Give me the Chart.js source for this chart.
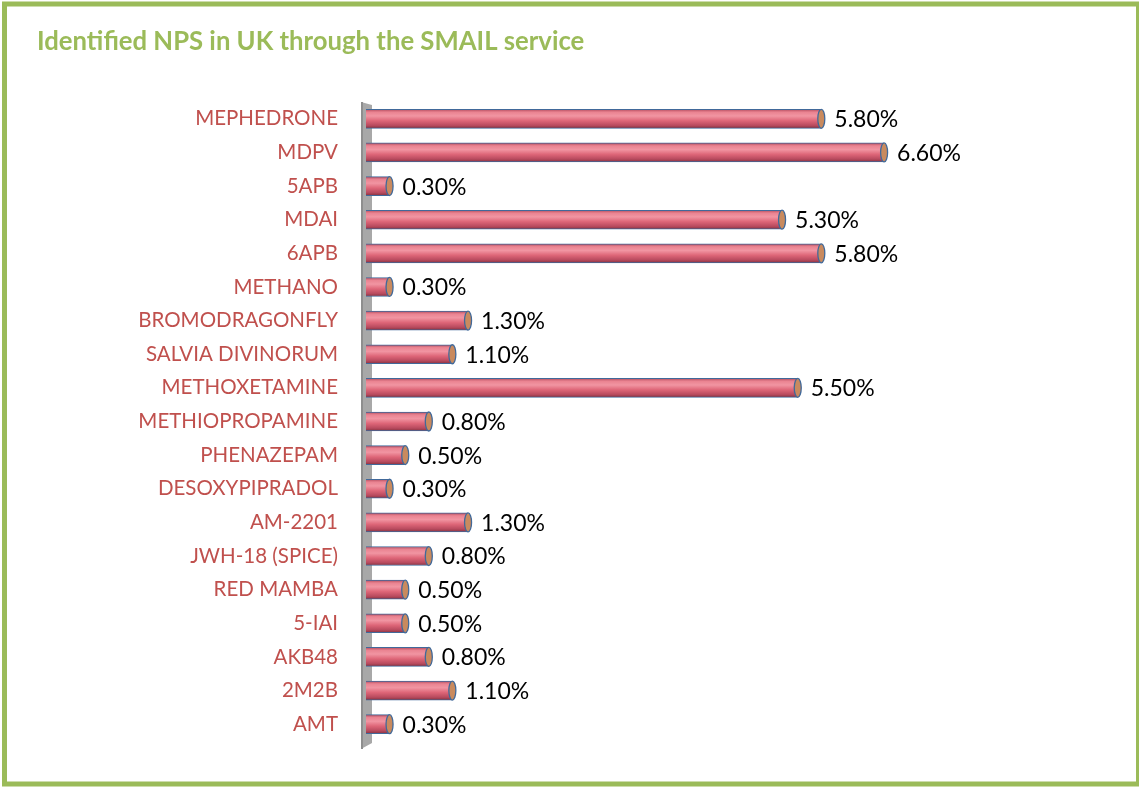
<!DOCTYPE html>
<html>
<head>
<meta charset="utf-8">
<title>Identified NPS in UK through the SMAIL service</title>
<script src="https://cdn.jsdelivr.net/npm/chart.js@4.4.1/dist/chart.umd.min.js"></script>
<style>
  html, body { margin: 0; padding: 0; background: #fff; }
  #wrap { position: relative; width: 1139px; height: 787px; }
</style>
</head>
<body>
<div id="wrap"><canvas id="nps-chart" width="1139" height="787"></canvas></div>
<script>
// substances and share of identified samples (%)
var substances = ['MEPHEDRONE', 'MDPV', '5APB', 'MDAI', '6APB', 'METHANO', 'BROMODRAGONFLY',
    'SALVIA DIVINORUM', 'METHOXETAMINE', 'METHIOPROPAMINE', 'PHENAZEPAM', 'DESOXYPIPRADOL',
    'AM-2201', 'JWH-18 (SPICE)', 'RED MAMBA', '5-IAI', 'AKB48', '2M2B', 'AMT'];
var shares = [5.8, 6.6, 0.3, 5.3, 5.8, 0.3, 1.3, 1.1, 5.5, 0.8, 0.5, 0.3, 1.3, 0.8, 0.5, 0.5, 0.8, 1.1, 0.3];
var chartTitle = 'Identified NPS in UK through the SMAIL service';

var GREEN = '#9BBB59';
var LABEL_RED = '#C0504D';
var EDGE_BLUE = '#41699A';
var BAR_H = 19;

// vertical gradient giving each bar a rounded tube look
function tubeFill(context) {
    var chart = context.chart;
    var yScale = chart.scales && chart.scales.y;
    if (!yScale || context.dataIndex === undefined) return '#E06A7C';
    var yc = yScale.getPixelForValue(context.dataIndex);
    if (!isFinite(yc)) return '#E06A7C';
    var g = chart.ctx.createLinearGradient(0, yc - BAR_H / 2, 0, yc + BAR_H / 2);
    g.addColorStop(0, '#B24C5E');
    g.addColorStop(0.15, '#EA8391');
    g.addColorStop(0.35, '#F195A2');
    g.addColorStop(0.6, '#DE6678');
    g.addColorStop(0.85, '#B84A5E');
    g.addColorStop(1, '#86323F');
    return g;
}

var framePlugin = {
    id: 'frame',
    beforeDraw: function(chart) {
        var ctx = chart.ctx;
        ctx.save();
        ctx.fillStyle = '#fff';
        ctx.fillRect(0, 0, chart.width, chart.height);
        ctx.strokeStyle = GREEN;
        ctx.lineWidth = 5;
        ctx.strokeRect(4.5, 4, 1134, 780);
        ctx.fillStyle = GREEN;
        ctx.font = 'bold 25.7px Lato, "Open Sans", sans-serif';
        ctx.textBaseline = 'middle';
        ctx.fillText(chartTitle, 37, 42);
        ctx.restore();
    },
    beforeDatasetsDraw: function(chart) {
        // grey back wall behind the bars
        var ctx = chart.ctx;
        var a = chart.chartArea;
        var x0 = a.left - 5, x1 = a.left + 6;
        ctx.save();
        ctx.fillStyle = '#A8A8A8';
        ctx.beginPath();
        ctx.moveTo(x0, a.top);
        ctx.lineTo(x1, a.top + 3);
        ctx.lineTo(x1, a.bottom + 2);
        ctx.lineTo(x0, a.bottom + 8);
        ctx.closePath();
        ctx.fill();
        ctx.fillStyle = '#8E8E8E';
        ctx.fillRect(x0, a.top, 2, a.bottom + 8 - a.top);
        ctx.restore();
    },
    afterDatasetsDraw: function(chart) {
        var ctx = chart.ctx;
        var meta = chart.getDatasetMeta(0);
        ctx.save();
        meta.data.forEach(function(bar, i) {
            var h = bar.height;
            // end cap of the tube
            ctx.beginPath();
            ctx.ellipse(bar.x, bar.y, 3.5, h / 2, 0, 0, Math.PI * 2);
            ctx.fillStyle = '#C98A5E';
            ctx.fill();
            ctx.lineWidth = 1.3;
            ctx.strokeStyle = EDGE_BLUE;
            ctx.stroke();
            // value label
            ctx.fillStyle = '#000';
            ctx.font = '23px Lato, "Open Sans", sans-serif';
            ctx.textBaseline = 'middle';
            ctx.textAlign = 'left';
            ctx.fillText(shares[i].toFixed(2) + '%', bar.x + 13, bar.y + 1);
        });
        ctx.restore();
    }
};

new Chart(document.getElementById('nps-chart'), {
    type: 'bar',
    data: {
        labels: substances,
        datasets: [{
            data: shares,
            backgroundColor: tubeFill,
            borderColor: EDGE_BLUE,
            borderWidth: { top: 1, bottom: 1, left: 0, right: 0 },
            borderSkipped: false,
            barThickness: BAR_H
        }]
    },
    options: {
        indexAxis: 'y',
        responsive: false,
        animation: false,
        devicePixelRatio: 1,
        layout: { padding: { top: 102, bottom: 46, left: 0, right: 145 } },
        scales: {
            x: { display: false, min: 0, max: 8 },
            y: {
                grid: { display: false, drawTicks: false },
                border: { display: false },
                ticks: {
                    color: LABEL_RED,
                    padding: 28,
                    font: { family: 'Lato, "Open Sans", sans-serif', size: 20.5 }
                },
                afterFit: function(scale) { scale.width = 366; }
            }
        },
        plugins: {
            legend: { display: false },
            tooltip: { enabled: false },
            title: { display: false }
        }
    },
    plugins: [framePlugin]
});
</script>
</body>
</html>
